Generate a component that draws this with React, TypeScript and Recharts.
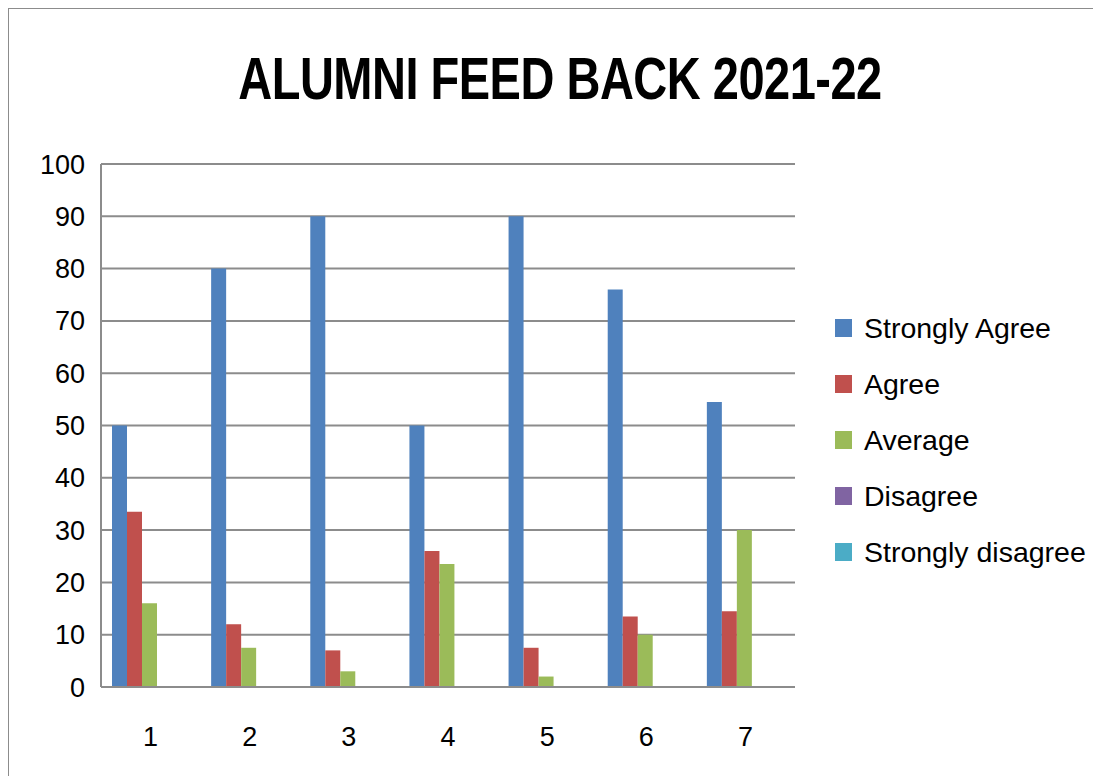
import { BarChart, Bar, XAxis, YAxis, CartesianGrid } from 'recharts'

const categories = ['1', '2', '3', '4', '5', '6', '7']
const stronglyAgree = [50, 80, 90, 50, 90, 76, 54.5]
const agree = [33.5, 12, 7, 26, 7.5, 13.5, 14.5]
const average = [16, 7.5, 3, 23.5, 2, 10, 30]
const disagree = [0, 0, 0, 0, 0, 0, 0]
const stronglyDisagree = [0, 0, 0, 0, 0, 0, 0]
const yTicks = [0, 10, 20, 30, 40, 50, 60, 70, 80, 90, 100]

const SERIES = [
  { key: 'sa', name: 'Strongly Agree', color: '#4F81BD' },
  { key: 'ag', name: 'Agree', color: '#C0504D' },
  { key: 'av', name: 'Average', color: '#9BBB59' },
  { key: 'di', name: 'Disagree', color: '#8064A2' },
  { key: 'sd', name: 'Strongly disagree', color: '#4BACC6' },
]

const data = categories.map((c, i) => ({
  cat: c,
  sa: stronglyAgree[i],
  ag: agree[i],
  av: average[i],
  di: disagree[i],
  sd: stronglyDisagree[i],
}))

const FONT = '"Liberation Sans", Arial, sans-serif'
const GRID = '#8c8c8c'

// legend drawn as plain html beside the plot
const LegendBox = () => (
  <div style={{ position: 'absolute', left: 827, top: 292, fontFamily: FONT }}>
    {SERIES.map(s => (
      <div key={s.key} style={{ display: 'flex', alignItems: 'center', height: 56 }}>
        <div style={{ width: 17, height: 18, background: s.color, marginRight: 12 }} />
        <span style={{ fontSize: 28.5, color: '#000', whiteSpace: 'nowrap' }}>{s.name}</span>
      </div>
    ))}
  </div>
)

export default function App() {
  return (
    <div style={{ position: 'relative', width: 1093, height: 768, background: '#fff', overflow: 'hidden' }}>
      <div style={{ position: 'absolute', left: -1, top: -1, width: 1200, height: 900, borderTop: `2px solid ${GRID}`, borderLeft: `2px solid ${GRID}` }} />
      <div style={{
        position: 'absolute', left: 0, top: 37, width: 1104, textAlign: 'center',
        fontFamily: FONT, fontWeight: 700, fontSize: 47, color: '#000', lineHeight: '54px',
        transform: 'scaleY(1.25)', transformOrigin: 'center top', letterSpacing: -0.5,
      }}>
        ALUMNI FEED BACK 2021-22
      </div>
      <div style={{ position: 'absolute', left: 0, top: 0 }}>
        <BarChart width={1093} height={768} data={data}
          margin={{ top: 156, right: 306, bottom: 19, left: 13 }}
          barCategoryGap={11} barGap={0}>
          <CartesianGrid vertical={false} stroke={GRID} strokeWidth={2} />
          <XAxis dataKey="cat" height={70} tickSize={0} tickMargin={40}
            axisLine={{ stroke: GRID, strokeWidth: 2 }} tickLine={false}
            tick={{ fill: '#000', fontSize: 27, fontFamily: FONT }} />
          <YAxis width={80} domain={[0, 100]} ticks={yTicks} tickSize={0} tickMargin={16}
            axisLine={{ stroke: GRID, strokeWidth: 2 }} tickLine={false}
            tick={{ fill: '#000', fontSize: 27, fontFamily: FONT }} />
          {SERIES.map(s => (
            <Bar key={s.key} dataKey={s.key} name={s.name} fill={s.color} isAnimationActive={false} />
          ))}
        </BarChart>
      </div>
      <LegendBox />
    </div>
  )
}
